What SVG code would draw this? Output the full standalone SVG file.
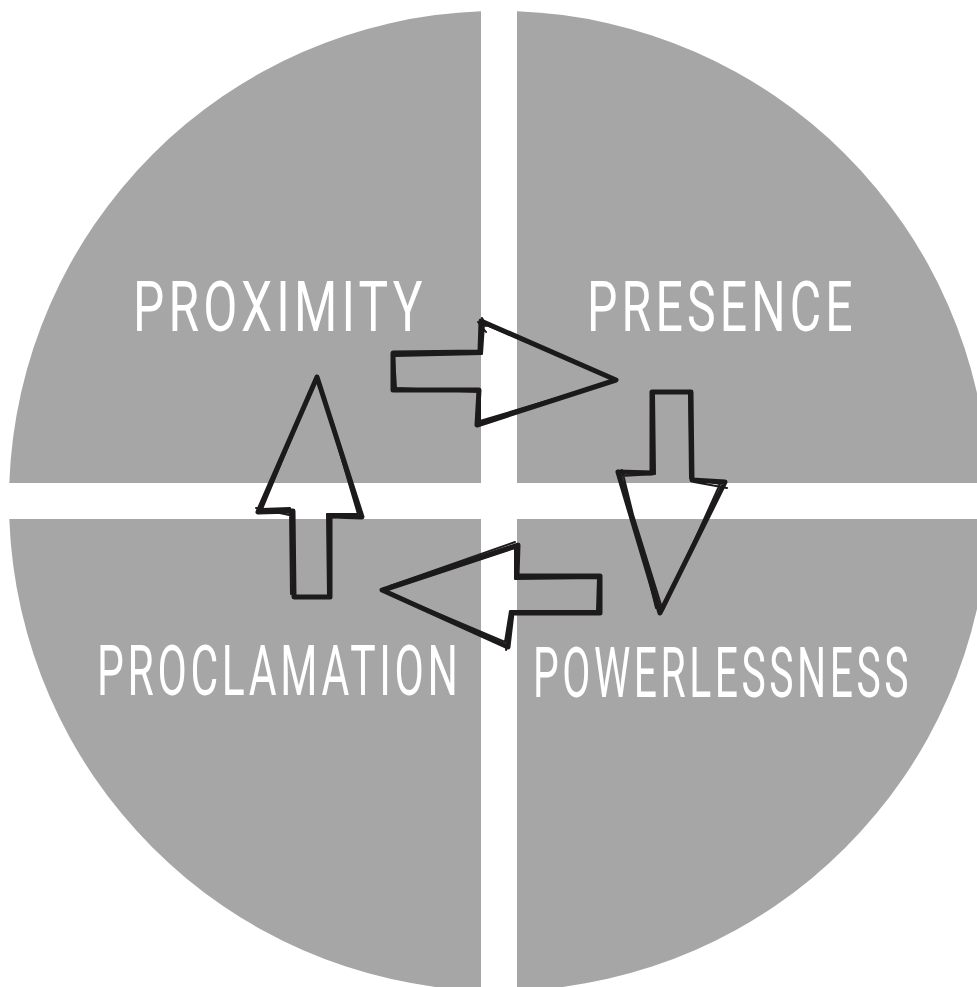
<svg xmlns="http://www.w3.org/2000/svg" width="977" height="987" viewBox="0 0 977 987">
<style>
.q{fill:#a6a6a6}
.lbl{font-family:Roboto,"Liberation Sans",sans-serif;font-weight:400;font-size:70px;letter-spacing:6px;fill:#ffffff}
.a{fill:none;stroke:#1c1a1a;stroke-width:5;stroke-linejoin:round;stroke-linecap:round}
.a2{fill:none;stroke:#1c1a1a;stroke-width:2;stroke-linejoin:round;stroke-linecap:round}
</style>
<rect width="977" height="987" fill="#ffffff"/>
<g id="proximity">
<path class="q" d="M481,483 L481,11.3 A490,490 0 0 0 9.3,483 Z"/>
<text class="lbl" transform="translate(133,331) scale(0.65,1)" x="0" y="0" textLength="452" lengthAdjust="spacingAndGlyphs">PROXIMITY</text>
</g>
<g id="presence">
<path class="q" d="M517,483 L517,11.3 A490,490 0 0 1 988.7,483 Z"/>
<text class="lbl" transform="translate(587,331) scale(0.65,1)" x="0" y="0" textLength="415" lengthAdjust="spacingAndGlyphs">PRESENCE</text>
</g>
<g id="powerlessness">
<path class="q" d="M517,519 L988.7,519 A490,490 0 0 1 517,990.7 Z"/>
<text class="lbl" transform="translate(533,697) scale(0.65,1)" x="0" y="0" textLength="583" lengthAdjust="spacingAndGlyphs">POWERLESSNESS</text>
</g>
<g id="proclamation">
<path class="q" d="M481,519 L481,990.7 A490,490 0 0 1 9.3,519 Z"/>
<text class="lbl" transform="translate(97,695) scale(0.65,1)" x="0" y="0" textLength="561" lengthAdjust="spacingAndGlyphs">PROCLAMATION</text>
</g>
<g id="connectors">
<g id="arrow-right">
<path class="a" d="M393,353 L480,352 L481,321 L616,380 L477,425 L479,390 L393,390 Z"/>
<path class="a2" d="M395,356 L482,354 L484,324 L612,378 M613,381 L480,421 L480,392 L396,388 L394,356 M486,326 L482,318 M478,322 L486,332"/>
</g>
<g id="arrow-down">
<path class="a" d="M652,392 L691,392 L692,480 L725,482 L660,613 L618,472 L652,473 Z"/>
<path class="a2" d="M654,394 L655,474 L621,476 L662,608 M663,610 L720,484 L690,478 L689,394 M622,470 L656,608 M694,482 L727,488"/>
</g>
<g id="arrow-left">
<path class="a" d="M600,576 L517,576 L518,545 L382,590 L508,647 L512,613 L600,613 Z"/>
<path class="a2" d="M598,578 L515,579 L515,548 L388,590 M387,592 L505,642 L510,611 L597,611 L598,578 M510,620 L506,650 M390,586 L515,542"/>
</g>
<g id="arrow-up">
<path class="a" d="M317,377 L258,512 L293,511 L294,597 L330,597 L330,516 L362,517 Z"/>
<path class="a2" d="M314,384 L262,509 L290,508 L291,594 M328,595 L327,514 L358,514 L319,382 M320,384 L358,512 M256,508 L294,516"/>
</g>
</g>
</svg>
